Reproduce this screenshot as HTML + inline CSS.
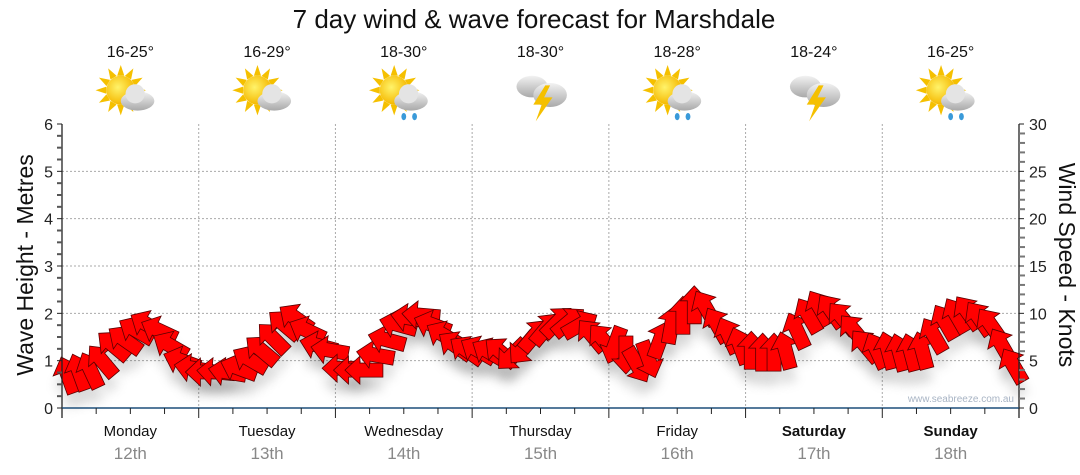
<!DOCTYPE html>
<html><head><meta charset="utf-8"><style>
body{margin:0;background:#fff;width:1080px;height:475px;overflow:hidden;font-family:"Liberation Sans",sans-serif}
svg{display:block}
</style></head><body>
<svg id="c" width="1080" height="475" xmlns="http://www.w3.org/2000/svg">
<defs>
<filter id="sh" x="-50%" y="-50%" width="200%" height="200%"><feGaussianBlur stdDeviation="5"/></filter>
<radialGradient id="sun" cx="0.4" cy="0.4" r="0.6"><stop offset="0" stop-color="#fff36a"/><stop offset="1" stop-color="#f5b800"/></radialGradient>
<linearGradient id="cloud" x1="0" y1="0" x2="0" y2="1"><stop offset="0" stop-color="#f2f2f2"/><stop offset="1" stop-color="#a9a9a9"/></linearGradient>
</defs>
<text x="534" y="28" font-size="26" text-anchor="middle" fill="#111">7 day wind &amp; wave forecast for Marshdale</text>
<g id="grid"></g><g id="icons"></g><g id="shadows"></g><g id="arrows"></g><g id="axes"></g>
<text x="1014" y="402" font-size="10" text-anchor="end" fill="#a8b4c4">www.seabreeze.com.au</text>
<text transform="translate(33,265) rotate(-90)" font-size="23" text-anchor="middle" fill="#111">Wave Height - Metres</text>
<text transform="translate(1059,265) rotate(90)" font-size="23" text-anchor="middle" fill="#111">Wind Speed - Knots</text>
</svg>
<script>
const days=["Monday","Tuesday","Wednesday","Thursday","Friday","Saturday","Sunday"];
const dates=["12th","13th","14th","15th","16th","17th","18th"];
const temps=["16-25°","16-29°","18-30°","18-30°","18-28°","18-24°","16-25°"];
const icons=["suncloud","suncloud","sunrain","storm","sunrain","storm","sunrain"];
const waveTicks=[0,1,2,3,4,5,6];
const windTicks=[0,5,10,15,20,25,30];
const hours=[1,3,5,7,9,11,13,15,17,19,21,23];
const windSpeed=[
3.5,3.8,4.0,5.0,6.6,7.2,8.2,8.8,8.2,6.6,5.0,4.2,
3.8,3.8,3.8,4.2,5.1,6.1,7.4,8.8,9.5,8.2,6.6,6.1,
4.2,4.0,4.0,5.6,7.2,8.8,9.5,9.8,8.8,7.7,6.6,6.1,
6.1,5.9,5.9,5.6,6.3,7.7,8.4,9.1,9.1,8.8,7.7,7.2,
6.6,5.6,4.5,5.1,7.2,8.8,9.8,10.9,10.6,8.8,7.7,6.6,
6.1,5.9,5.9,6.1,8.2,9.8,10.6,10.3,9.5,8.2,6.6,6.1,
6.1,5.9,5.9,6.1,7.7,9.1,9.8,10.1,9.5,8.8,6.6,4.5];
const windDir=[
340,340,335,320,310,305,300,300,295,300,290,280,
270,275,280,290,300,310,315,310,305,295,285,280,
270,270,270,280,285,285,280,275,290,300,305,305,
300,300,310,225,220,40,40,45,50,60,320,320,
200,180,150,160,20,10,0,0,330,330,335,340,
0,0,0,345,335,330,330,325,320,320,320,335,
345,345,345,345,330,330,330,325,325,325,330,330];
const NS="http://www.w3.org/2000/svg";
const X0=62,X1=1019,Y0=408,Y6=124,DW=(X1-X0)/7;
const xT=t=>X0+t/24*DW;
const yW=m=>Y0-m*(Y0-Y6)/6;
const yK=k=>yW(k/5);
function mk(tag,attrs,parent,txt){const e=document.createElementNS(NS,tag);for(const k in attrs)e.setAttribute(k,attrs[k]);if(txt!==undefined)e.textContent=txt;parent.appendChild(e);return e;}
const grid=document.getElementById('grid'),axes=document.getElementById('axes'),ic=document.getElementById('icons'),sh=document.getElementById('shadows'),ar=document.getElementById('arrows');
waveTicks.forEach(v=>{if(v>0&&v<6){const l=mk('line',{x1:X0,x2:X1,y1:yW(v),y2:yW(v),stroke:'#aaa','stroke-dasharray':'2,2'},grid);}
 const t=mk('text',{x:X0-9,y:yW(v)+6,'font-size':16,'text-anchor':'end',fill:'#222'},axes,v);});
windTicks.forEach(v=>{const t=mk('text',{x:X1+10,y:yK(v)+6,'font-size':16,fill:'#222'},axes,v);});
for(let i=1;i<7;i++){const l=mk('line',{x1:X0+i*DW,x2:X0+i*DW,y1:Y6,y2:Y0,stroke:'#aaa','stroke-dasharray':'2,2'},grid);}
mk('line',{x1:X0,x2:X0,y1:Y6,y2:Y0+10,stroke:'#222','stroke-width':1.3},axes);
mk('line',{x1:X1,x2:X1,y1:Y6,y2:Y0+10,stroke:'#222','stroke-width':1.3},axes);
mk('line',{x1:X0,x2:X1,y1:Y0,y2:Y0,stroke:'#1d4f7a','stroke-width':1.5},axes);
for(let m=0;m<=6;m+=0.25){const maj=m%1===0;if(maj)mk('line',{x1:X0-5,x2:X0,y1:yW(m),y2:yW(m),stroke:'#222'},axes);else mk('line',{x1:X0,x2:X0-5,y1:yW(m),y2:yW(m),stroke:'#555','stroke-width':2},axes);}
for(let k=0;k<=30;k++){mk('line',{x1:X1,x2:X1+(k%5===0?5:6),y1:yK(k),y2:yK(k),stroke:k%5===0?'#222':'#777','stroke-width':k%5===0?1:2},axes);}
for(let q=0;q<=28;q++){mk('line',{x1:X0+q*DW/4,x2:X0+q*DW/4,y1:Y0,y2:Y0+(q%4===0?10:6),stroke:'#222'},axes);}
days.forEach((d,i)=>{const cx=X0+(i+0.5)*DW;const bold=i>=5;
 const a=mk('text',{x:cx,y:436,'font-size':15,'text-anchor':'middle',fill:'#111','font-weight':bold?'bold':'normal'},axes,d);
 const b=mk('text',{x:cx,y:459,'font-size':17,'text-anchor':'middle',fill:'#888'},axes,dates[i]);
 const t=mk('text',{x:cx,y:57,'font-size':16,'text-anchor':'middle',fill:'#111'},ic,temps[i]);
 const g=mk('g',{transform:`translate(${cx},95) scale(1.2)`},ic);
 const kind=icons[i];
 if(kind!=='storm'){for(let r=0;r<12;r++){const an=r*30*Math.PI/180;mk('polygon',{points:`${-8+Math.cos(an)*12-Math.sin(an)*3},${-4+Math.sin(an)*12+Math.cos(an)*3} ${-8+Math.cos(an)*21},${-4+Math.sin(an)*21} ${-8+Math.cos(an)*12+Math.sin(an)*3},${-4+Math.sin(an)*12-Math.cos(an)*3}`,fill:'#f5c000'},g);}
  mk('circle',{cx:-8,cy:-4,r:12,fill:'url(#sun)'},g);
  mk('ellipse',{cx:6,cy:5,rx:14,ry:8,fill:'url(#cloud)'},g);mk('circle',{cx:4,cy:-1,r:8,fill:'#e4e4e4'},g);
  if(kind==='sunrain'){mk('ellipse',{cx:0,cy:18,rx:2,ry:3,fill:'#3a9ad9'},g);mk('ellipse',{cx:9,cy:18,rx:2,ry:3,fill:'#3a9ad9'},g);}
 }else{mk('ellipse',{cx:-7,cy:-7,rx:13,ry:9,fill:'url(#cloud)'},g);mk('ellipse',{cx:8,cy:0,rx:14,ry:10,fill:'url(#cloud)'},g);
  mk('polygon',{points:'4,-8 -6,8 1,8 -4,22 10,2 3,2 8,-8',fill:'#f5c000'},g);}
});
const L=38,HL=15,HW=14,SW=7;
const pts=`${L/2},0 ${L/2-HL},${-HW} ${L/2-HL},${-SW} ${-L/2},${-SW} ${-L/2},${SW} ${L/2-HL},${SW} ${L/2-HL},${HW}`;
windSpeed.forEach((k,i)=>{const day=Math.floor(i/12),t=day*24+hours[i%12];const x=xT(t),y=yK(k);const rot=windDir[i]-90;
 const s=mk('polygon',{points:pts,fill:'#000','fill-opacity':0.12,filter:'url(#sh)',transform:`translate(${x},${y+14}) rotate(${rot})`},sh);
 
 const p=mk('polygon',{points:pts,fill:'#ff0000',stroke:'#5a0000','stroke-width':0.8,'stroke-linejoin':'miter',transform:`translate(${x},${y}) rotate(${rot})`},ar);
 
 
});
</script>
</body></html>
